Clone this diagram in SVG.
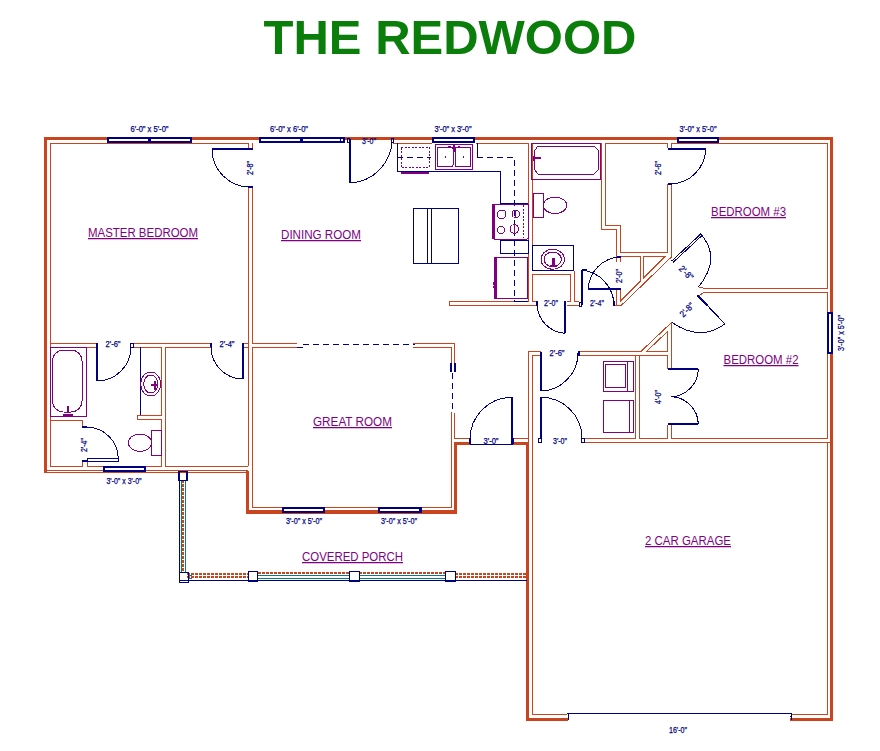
<svg xmlns="http://www.w3.org/2000/svg" width="880" height="751" viewBox="0 0 880 751">
<style>
path,rect,ellipse,circle{shape-rendering:crispEdges}
.thick{fill:none;stroke:#c8451f;stroke-width:3.2;stroke-linejoin:miter}
.wall{fill:none;stroke:#c8451f;stroke-width:1}
.blue{fill:none;stroke:#000080;stroke-width:1}
.bold{fill:none;stroke:#000080;stroke-width:2}
.dash{fill:none;stroke:#000080;stroke-width:1;stroke-dasharray:6 4}
.pur{fill:none;stroke:#800080;stroke-width:1}
.purb{fill:none;stroke:#800080;stroke-width:2.2}
.purd{fill:none;stroke:#800080;stroke-width:1;stroke-dasharray:2 1.5}
.teal{fill:none;stroke:#008080;stroke-width:1}
.rd{fill:none;stroke:#c8451f;stroke-width:2;stroke-dasharray:3 1}
.win{fill:#000080}
.glass{fill:#fff}
.room{font-family:"Liberation Sans",Arial,sans-serif;font-size:12.5px;fill:#800080;text-decoration:underline;text-anchor:middle}
.dim{font-family:"Liberation Sans",Arial,sans-serif;font-size:9px;fill:#000080;stroke:#000080;stroke-width:.25;text-anchor:middle}
.title{font-family:"Liberation Sans",Arial,sans-serif;font-size:49px;font-weight:bold;fill:#0a7d0a;text-anchor:middle}
</style>
<rect width="880" height="751" fill="#fff"/>
<text class="title" x="450" y="54">THE REDWOOD</text>

<g id="outer-walls">
<path class="thick" d="M45.5 472V138.5H831.5V719.5H790M568 719.500H527.500V443.500H513M470 443.500H455.500V512H247.500V471"/>
<path class="wall" d="M44 470H248M44 472.700H248"/>
</g>

<g id="inner-walls">
<path class="wall" d="M50.300 466.300V143.300H248.300V148M252.500 148V143.300H252.500M248.300 187V466.300M252.500 187V343.300H297M252.500 347.300V507.700H451V412M451 363V347.300H413M303 347.300H252.500"/>
<path class="wall" d="M413 343.500H454.700V363M454.700 413V438.300H470"/>
<path class="wall" d="M50.300 343.300H96M131 343.300H211M131 347.300H161.300V415H137.300V419.700H161.300V466.300H87V461M96 347.300H50.300M82.300 427V420.300H50.300M82.300 461V466.300H50.300M211 347.300H165.300V466.300H248.300M243 343.300H248.300M243 347.300H248.300"/>
<path class="wall" d="M393 143.300H432M476 143.300H528.700V301H449.300V305.700H537M532.500 143.300H601.700V229.300H616.700V261.700M605.700 143.300V225H620.700V252.300H667.700V184M532.500 143.300V245M566.700 305.700H579M532.500 274.300H570.700V301H566.700M532.500 274.300V301H537M574.300 270.700V301H579"/>
<path class="wall" d="M605.700 143.300H667.700V148M671.700 148V143.300H827.700V288.300H704.300L698.700 287.300M671.700 184V256.700L621.700 305H614M616.700 290V305M620.700 290V301L640 281.700V256.700H620.700V261.700M643.300 256.700H665L643.300 278.300ZM697.300 296.700L704.300 292.300H827.700V312M827.700 354V438.300H671.700V425M671.700 369V322.300L640.700 351.700H579M667.700 369V355.700H579M646.700 351.300L667.300 331.700V351.300ZM667.700 425V438.300H639.300V355.700M635.700 355.700V438.300H584M584 442.300H830M827.700 442.300V714.300H792M567 714.300H532.300V355.700H541M528.300 443V351.700H541M513.300 438.300H528.300"/>
</g>

<g id="windows">
<rect class="win" x="107" y="137" width="85" height="6"/><rect class="glass" x="109" y="139" width="39" height="2"/><rect class="glass" x="151" y="139" width="39" height="2"/>
<rect class="win" x="259" y="137" width="86" height="6"/><rect class="glass" x="261" y="139" width="39" height="2"/><rect class="glass" x="303" y="139" width="40" height="2"/>
<rect class="win" x="432" y="137" width="43" height="6"/><rect class="glass" x="434" y="139" width="39" height="2"/>
<rect class="win" x="677" y="137" width="42" height="6"/><rect class="glass" x="679" y="139" width="38" height="2"/>
<rect class="win" x="827" y="312" width="6" height="42"/><rect class="glass" x="829" y="314" width="2" height="38"/>
<rect class="win" x="103" y="466" width="43" height="6"/><rect class="glass" x="105" y="468" width="39" height="2"/>
<rect class="win" x="282" y="507" width="43" height="6"/><rect class="glass" x="284" y="509" width="39" height="2"/>
<rect class="win" x="378" y="507" width="44" height="6"/><rect class="glass" x="380" y="509" width="39" height="2"/>
<rect class="win" x="567" y="713" width="225" height="1"/>
<path class="blue" d="M568 714V720M791 714V720M567.500 716H569M790 716H792"/>
</g>

<g id="doors">
<path class="bold" d="M212 149.300H252.700M248 187H252.700"/><path class="blue" d="M212 149.300A38 38 0 0 0 250 187"/>
<path class="bold" d="M350 139V183"/><path class="blue" d="M350 183A44 44 0 0 0 392 140"/>
<rect class="blue" x="340.500" y="138" width="2.500" height="4"/><rect class="blue" x="347" y="138" width="2" height="4"/><rect class="blue" x="391" y="138" width="2.500" height="4"/>
<path class="bold" d="M96.700 343V381"/><path class="blue" d="M96.700 381A34 34 0 0 0 131 347"/><rect class="blue" x="130.500" y="343.300" width="2.500" height="4"/>
<path class="bold" d="M211 343V347M243 343V379"/><path class="blue" d="M243 379A32 32 0 0 1 211 347"/>
<path class="bold" d="M82 427H87M82 461H87"/><path class="blue" d="M87 427A32 32 0 0 1 118.300 459M87 458H118.300V461H87Z"/>
<path class="bold" d="M667.700 148.500H705.700M667.700 184H671.700"/><path class="blue" d="M705.700 149A36 36 0 0 1 671 184"/>
<path class="blue" d="M671.700 261L700.700 234L702 235.500L673 262.500M700.700 234Q722 258 698.300 287.300"/>
<path class="blue" d="M697.300 295L725 324Q700 342 671.700 322.300"/><path class="bold" d="M697.300 295L708 306"/>
<path class="bold" d="M588.300 289.300H620.700M620.700 257H616.700"/><path class="blue" d="M588.300 289.300A33 33 0 0 1 620.700 257"/>
<path class="bold" d="M581.700 269.500V305M581.700 269.500H587M614 301V306"/><path class="blue" d="M582 270A36 36 0 0 1 614 305"/><rect class="blue" x="579" y="302" width="2.500" height="4"/>
<path class="bold" d="M537 301V306M565 301V333.300"/><path class="blue" d="M565 333.300A30 30 0 0 1 537 305"/>
<path class="bold" d="M541 352V391M541 397.300V438M579 351V356"/><path class="blue" d="M541 391A38 38 0 0 0 578 353M541 397.300A41 41 0 0 1 582 438"/>
<rect class="blue" x="538" y="438" width="3" height="4"/><rect class="blue" x="581.500" y="438" width="2.500" height="4"/>
<path class="bold" d="M511.700 397.300V444M470 438V444M513.300 438V444"/><path class="blue" d="M512 397.300A42 42 0 0 0 470 440M470 444.300H513.300"/>
<path class="bold" d="M667.500 369.300H698.300M667.500 424H698.300"/><path class="blue" d="M698.300 369.300A28 28 0 0 1 671 396.700A28 28 0 0 1 698.300 424"/>
<path class="dash" d="M303 344H415M297 347H303"/>
<path class="bold" d="M451 363V372M454.700 363V372"/>
<path class="dash" d="M452 373V412"/>
</g>

<g id="kitchen">
<path class="blue" d="M397.300 143.300V171.700H500.700V203.300H528.300"/>
<path class="dash" d="M397 157.300H430.700M477.300 157.300H514.300V301"/>
<path class="blue" d="M477.300 143V157.300M514.300 301H528.300"/>
<rect class="purd" x="401" y="147.300" width="28" height="20.400"/>
<path class="purb" d="M401 172.700H429"/>
<rect class="pur" x="435.700" y="144.300" width="37" height="25"/>
<rect class="pur" x="437" y="147.300" width="16" height="19.400" rx="2"/><rect class="pur" x="455" y="147.300" width="15.700" height="19.400" rx="2"/>
<path class="purb" d="M454 145V152M449.500 146V148M459 146V148M445 157H446M462.500 157H463.500"/>
<rect class="pur" x="492.700" y="204.300" width="35.600" height="34.700" rx="1"/>
<path class="purb" d="M493.700 205V238.500"/>
<path class="purd" d="M523 205V238"/>
<circle class="pur" cx="501.700" cy="214.300" r="4.300"/><circle class="pur" cx="515.700" cy="214" r="3.700"/><circle class="pur" cx="501" cy="230" r="3.700"/><circle class="pur" cx="514.300" cy="229" r="4.300"/>
<path class="pur" d="M515.700 210.500V217.500M514.300 225V233"/>
<rect class="blue" x="500.700" y="240" width="27.600" height="13.300"/>
<rect class="pur" x="494.700" y="257.300" width="33" height="41"/>
<path class="purb" d="M495.700 257.300V298.300M493 283.500H494.500M493 287H494.500"/>
<rect class="blue" x="413.300" y="208.300" width="45.400" height="55"/>
<path class="blue" d="M427.300 208.300V263.300M431.300 208.300V263.300"/>
</g>

<g id="bath-fixtures">
<rect class="pur" x="531.700" y="143.300" width="69" height="36"/>
<path class="pur" d="M538 146H594L598.700 151V169.300L594 174.300H538L534.300 169.300V151Z"/>
<path class="purb" d="M533.500 158H541M534 156V161" style="stroke-width:1.500"/>
<rect class="pur" x="533.300" y="193.700" width="10" height="23.600"/><ellipse class="pur" cx="555" cy="205.300" rx="11.700" ry="8.300"/>
<rect class="blue" x="532.500" y="245" width="41" height="25.700"/>
<ellipse class="pur" cx="552.700" cy="259.300" rx="11.700" ry="10"/><ellipse class="pur" cx="552.700" cy="259.300" rx="8.700" ry="7.300"/>
<path class="purb" d="M553.500 258V267M550 266H557"/>
<rect class="pur" x="50.300" y="347.300" width="36" height="69.400"/>
<rect class="pur" x="52.500" y="350" width="29.500" height="62" rx="11"/>
<path class="purb" d="M68 406V412M63 415H73" style="stroke-width:1.500"/>
<path class="blue" d="M140.300 347.300V415"/>
<ellipse class="pur" cx="150.700" cy="384" rx="10" ry="12"/><ellipse class="pur" cx="150.700" cy="384" rx="7" ry="9"/>
<path class="purb" d="M151 385H158M155 381V390"/>
<rect class="pur" x="151.300" y="430.300" width="10" height="25"/><ellipse class="pur" cx="140" cy="442.700" rx="11.700" ry="8.700"/>
<rect class="pur" x="603.300" y="361" width="30" height="30.700"/><rect class="pur" x="605.300" y="364" width="19.700" height="23.700"/>
<path class="pur" d="M627.300 361V391.700"/>
<path class="purb" d="M627 369V370M627 380V381" style="stroke-width:1"/>
<rect class="pur" x="603.300" y="400" width="30" height="32.300"/>
<path class="pur" d="M629.300 400V432.300"/>
<path class="purb" d="M629 406V408M629 410V411" style="stroke-width:1"/>
</g>

<g id="porch">
<path class="rd" d="M183 480V573M187 574H248M187 577H248M455 574H526M455 577H526M258 573H349M359 573H445"/>
<path class="teal" d="M181 481V572M185 481V572M189 575H192M189 578H192M258 575H349M258 578H349M359 575H445M359 578H445"/>
<path class="blue" d="M179.700 480V573M180 580.300H527"/>
<path class="bold" d="M179 471.500H187V480.500H179Z" style="stroke-width:1.500"/>
<path class="blue" d="M179.300 572.700H188.700V582.700H179.300ZM248 571.300H257.700V581.300H248ZM349 571.300H359V581.300H349ZM445.300 571.300H455V581.300H445.300Z"/>
</g>

<g id="labels">
<text class="room" x="143" y="237" textLength="110" lengthAdjust="spacingAndGlyphs">MASTER BEDROOM</text>
<text class="room" x="321" y="239" textLength="80" lengthAdjust="spacingAndGlyphs">DINING ROOM</text>
<text class="room" x="748.500" y="216" textLength="75" lengthAdjust="spacingAndGlyphs">BEDROOM #3</text>
<text class="room" x="761" y="364" textLength="75" lengthAdjust="spacingAndGlyphs">BEDROOM #2</text>
<text class="room" x="352.500" y="426" textLength="79" lengthAdjust="spacingAndGlyphs">GREAT ROOM</text>
<text class="room" x="352.500" y="561" textLength="101" lengthAdjust="spacingAndGlyphs">COVERED PORCH</text>
<text class="room" x="688" y="545" textLength="86" lengthAdjust="spacingAndGlyphs">2 CAR GARAGE</text>
<text class="dim" x="149.500" y="132" textLength="38" lengthAdjust="spacingAndGlyphs">6'-0" x 5'-0"</text>
<text class="dim" x="289" y="132" textLength="38" lengthAdjust="spacingAndGlyphs">6'-0" x 6'-0"</text>
<text class="dim" x="453" y="132" textLength="37" lengthAdjust="spacingAndGlyphs">3'-0" x 3'-0"</text>
<text class="dim" x="698" y="132" textLength="37" lengthAdjust="spacingAndGlyphs">3'-0" x 5'-0"</text>
<text class="dim" x="369" y="144" textLength="14" lengthAdjust="spacingAndGlyphs">3'-0"</text>
<text class="dim" transform="translate(253 168) rotate(-90)" textLength="14" lengthAdjust="spacingAndGlyphs">2'-8"</text>
<text class="dim" x="113" y="347" textLength="15" lengthAdjust="spacingAndGlyphs">2'-6"</text>
<text class="dim" x="227" y="347" textLength="15" lengthAdjust="spacingAndGlyphs">2'-4"</text>
<text class="dim" transform="translate(87 445) rotate(-90)" textLength="14" lengthAdjust="spacingAndGlyphs">2'-4"</text>
<text class="dim" x="124" y="484" textLength="35" lengthAdjust="spacingAndGlyphs">3'-0" x 3'-0"</text>
<text class="dim" x="304" y="524" textLength="36" lengthAdjust="spacingAndGlyphs">3'-0" x 5'-0"</text>
<text class="dim" x="399" y="524" textLength="36" lengthAdjust="spacingAndGlyphs">3'-0" x 5'-0"</text>
<text class="dim" x="551" y="306" textLength="14" lengthAdjust="spacingAndGlyphs">2'-0"</text>
<text class="dim" x="597" y="306" textLength="14" lengthAdjust="spacingAndGlyphs">2'-4"</text>
<text class="dim" transform="translate(622 276) rotate(-90)" textLength="14" lengthAdjust="spacingAndGlyphs">2'-0"</text>
<text class="dim" transform="translate(661 168) rotate(-90)" textLength="14" lengthAdjust="spacingAndGlyphs">2'-6"</text>
<text class="dim" transform="translate(684 275) rotate(45)" textLength="16" lengthAdjust="spacingAndGlyphs">2'-8"</text>
<text class="dim" transform="translate(689 312) rotate(-45)" textLength="16" lengthAdjust="spacingAndGlyphs">2'-8"</text>
<text class="dim" x="557" y="356" textLength="15" lengthAdjust="spacingAndGlyphs">2'-6"</text>
<text class="dim" x="560" y="444" textLength="14" lengthAdjust="spacingAndGlyphs">3'-0"</text>
<text class="dim" x="491" y="444" textLength="15" lengthAdjust="spacingAndGlyphs">3'-0"</text>
<text class="dim" transform="translate(661 397) rotate(-90)" textLength="14" lengthAdjust="spacingAndGlyphs">4'-0"</text>
<text class="dim" transform="translate(844 333) rotate(-90)" textLength="36" lengthAdjust="spacingAndGlyphs">3'-0" x 5'-0"</text>
<text class="dim" x="678" y="733" textLength="18" lengthAdjust="spacingAndGlyphs">16'-0"</text>
</g>
</svg>
